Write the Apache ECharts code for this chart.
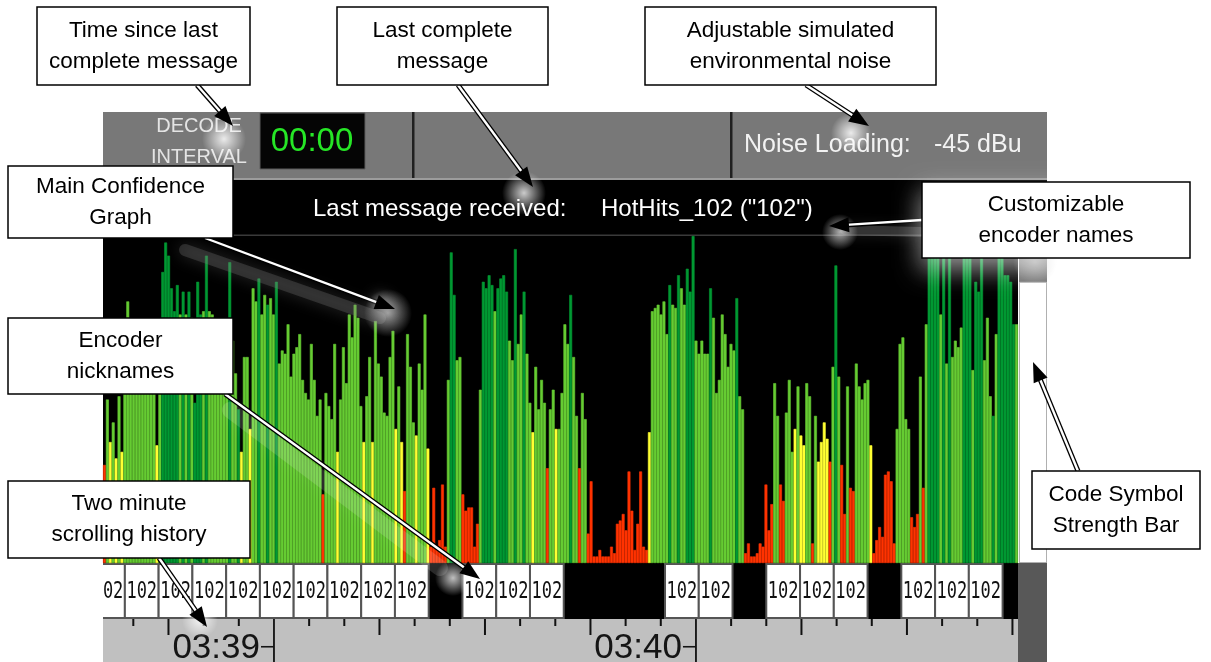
<!DOCTYPE html>
<html><head><meta charset="utf-8">
<script src="https://cdn.jsdelivr.net/npm/echarts@6/dist/echarts.min.js"></script>
<style>html,body{margin:0;padding:0;background:#fff}#c{width:1211px;height:662px}</style>
</head><body><div id="c"></div>
<script>
// ---- confidence bars (percent of full scale), read left to right ----
const confidenceA = [30,50,37,43,32,51,34,66,80,70, 63,72,67,61,69,64,57,70,36,69, 89,98,94,84,77,85,76,83,76,83, 75,49,86,76,77,94,77,76,72,65, 60,68,70,92,68,58,47,34,63,63, 41,84,80,87,76,82,79,81,76,86, 61,65,64];
const levelsA = "RLYLYLYLLL"+"LLLLLLLLYL"+"DDDDDDLDLD"+"LDDDLDLLLL"+"LLLDLLDYLL"+"YLLDLLDLLD"+"LLL";
const confidenceB = [73,57,64,66,70,56,52,50,67,56, 45,50,21,52,48,44,67,34,50,66, 55,76,69,79,75,48,37,51,63,37, 74,61,57,46,45,63,71,41,54,37, 22,70,60,43,39,61,53,76,35,5, 23,5,7,24,5,56,95,82,62,63,21,16];
const levelsB = "LLLLLLLLLL"+"LLRLLLLYLL"+"LLLLLLYLLY"+"LLLLLLLYLY"+"RLLLYLLLYR"+"RRRRRLDDLLRR";
const confidenceC = [17,17,5,12,53,86,84,88,85,77, 84,87,88,83,68,62,96,67,76,83, 64,49,40,60,47,56,49,29,47,53, 41,41,52,73,67,82,63,45,29,52, 44,9,25,2,2,4,2,2,2,5, 3,12,13,15,10,28,16,4,12,28,5,4,40];
const levelsC = "RRRRLDDDDL"+"DDDDLLDLLD"+"LLYLLLLRLL"+"YLLLLDLLRL"+"LRRRRRRRRR"+"RRRRRRRRRRRRY";
const confidenceD = [77,78,79,76,80,70,85,79,78,88, 84,79,90,83,100,68,64,68,64,64, 84,75,52,56,76,70,60,67,65,81, 51,47,3,6,2,2,3,6,5,24, 10,18,55,45,24,19,46,56,34,41, 54,39,36,55,51,6,45,31,37,43,38,31,60];
const levelsD = "LLLLLLDLLD"+"LLDDDLLLLL"+"DLLLLLLLLD"+"LLRRRRRRRR"+"RRLLRRLLLY"+"LYYLLRLYYYYRL";
const confidenceE = [91,57,30,15,54,23,22,61,54,50, 55,56,36,3,7,11,8,27,28,25, 6,41,67,69,44,41,14,11,15,57, 23,73,97,99,96,98,76,97,61,99, 63,68,66,72,97,99,96,59,86,83, 98,62,75,51,45,70,97,99,88,88,86,73,73];
const levelsE = "DLRRLRRLLL"+"LLYRRRRRRR"+"RLLLLLRRRL"+"RLDDDDLDLD"+"LLLLDDDLDD"+"DLLLDLDDDDDDL";

const codeSymbolStrength = [86];

// ---- encoder nickname slots (seconds after 03:38:00) ----
const slotNames = ['102','102','102','102','102','102','102','102','102','102','', '102','102','102','','','', '102','102','', '102','102','102','', '102','102','102',''];
const slotStart = 34.0, slotSeconds = 4.8;

// ---- time axis (seconds after 03:38:00) ----
const timeMin = 35.69, timeMax = 165.79;
const fiveSecondTicks = [40,45,50,55,60,65,70,75,80,85,90,95,100,105,110,115,120,125,130,135,140,145,150,155,160,165];
const quarterTicks = [45,75,90,105,135,150,165];
const minuteTicks = [60,120];
const minuteLabels = ['03:39','03:40'];

const COLORS = {R:'#ff3300', Y:'#ffff33', L:'#66cc33', D:'#009933'};
const confidence = [].concat(confidenceA, confidenceB, confidenceC, confidenceD, confidenceE);
const levels = (levelsA+levelsB+levelsC+levelsD+levelsE).split('');

const FONT = '"Liberation Sans", Arial, sans-serif';

function arrow(x1,y1,x2,y2,headFill,headShadow){
  const dx=x2-x1, dy=y2-y1, L=Math.hypot(dx,dy), ux=dx/L, uy=dy/L;
  const hl=20, hw=7.5, bx=x2-ux*hl, by=y2-uy*hl, px=-uy, py=ux;
  const ex=bx+ux*3, ey=by+uy*3;
  const head={type:'polygon', z:103, shape:{points:[[x2,y2],[bx+px*hw,by+py*hw],[bx-px*hw,by-py*hw]]}, style:{fill:headFill||'#000'}};
  if(headShadow){head.style.shadowBlur=14; head.style.shadowColor=headShadow;}
  return [
    {type:'line', z:101, shape:{x1:x1,y1:y1,x2:ex,y2:ey}, style:{stroke:'#000', lineWidth:5}},
    {type:'line', z:102, shape:{x1:x1,y1:y1,x2:ex,y2:ey}, style:{stroke:'#fff', lineWidth:2.4}},
    head
  ];
}
function glow(cx,cy,r,color){
  return {type:'circle', z:95, shape:{cx:cx,cy:cy,r:r}, silent:true,
    style:{fill:new echarts.graphic.RadialGradient(0.5,0.5,0.5,[{offset:0,color:color},{offset:1,color:color.replace(/[\d.]+\)$/,'0)')}])}};
}
function callout(x,y,w,h,lines,extra){
  const box={type:'rect', z:110, shape:{x:x,y:y,width:w,height:h}, style:Object.assign({fill:'#fff', stroke:'#000', lineWidth:1.5}, extra||{})};
  const txt={type:'text', z:111, x:x+w/2, y:y+h/2, style:{text:lines.join('\n'), align:'center', verticalAlign:'middle', textAlign:'center', textVerticalAlign:'middle', fontSize:22.5, lineHeight:31, fontFamily:FONT, fill:'#000'}};
  return [box, txt];
}
function label(x,y,text,size,color,align){
  return {type:'text', z:5, x:x, y:y, style:{text:text, align:align||'left', textAlign:align||'left', verticalAlign:'middle', textVerticalAlign:'middle', fontSize:size, fontFamily:FONT, fill:color}};
}

const graphics = [].concat(
  [
    {type:'rect', z:1, shape:{x:103,y:112,width:944,height:66}, style:{fill:'#787878'}},
    {type:'rect', z:1, shape:{x:103,y:178,width:944,height:2}, style:{fill:'#9c9c9c'}},
    {type:'rect', z:1, shape:{x:103,y:180,width:944,height:56}, style:{fill:'#000'}},
    {type:'rect', z:2, shape:{x:103,y:234.5,width:916,height:1.5}, style:{fill:'#3a3a3a'}},
    {type:'rect', z:2, shape:{x:412,y:112,width:2.5,height:66}, style:{fill:'#202020'}},
    {type:'rect', z:2, shape:{x:730,y:112,width:2.5,height:66}, style:{fill:'#202020'}},
    {type:'rect', z:2, shape:{x:260,y:113,width:105,height:56}, style:{fill:'#050505', stroke:'#5c5c5c', lineWidth:1}},
    {type:'rect', z:1, shape:{x:1018,y:563,width:29,height:99}, style:{fill:'#585858'}},
    label(199,126,'DECODE',20,'#e4e4e4','center'),
    label(199,157,'INTERVAL',20,'#e4e4e4','center'),
    label(312,142,'00:00',33,'#26e626','center'),
    label(744,145,'Noise Loading:',25,'#f2f2f2'),
    label(934,145,'-45 dBu',25,'#f2f2f2'),
    label(313,209,'Last message received:',24,'#ffffff'),
    label(601,209,'HotHits_102 ("102")',24,'#ffffff'),
    // glows & soft shadows
    {type:'line', z:94, silent:true, shape:{x1:185,y1:250,x2:380,y2:318}, style:{stroke:'rgba(120,120,120,0.3)', lineWidth:12, shadowBlur:16, shadowColor:'rgba(160,160,160,0.8)', lineCap:'round'}},
    {type:'line', z:94, silent:true, shape:{x1:230,y1:410,x2:440,y2:568}, style:{stroke:'rgba(255,255,255,0.14)', lineWidth:16, shadowBlur:18, shadowColor:'rgba(255,255,255,0.45)', lineCap:'round'}},
    {type:'line', z:94, silent:true, shape:{x1:920,y1:232,x2:845,y2:230}, style:{stroke:'rgba(140,140,140,0.3)', lineWidth:10, shadowBlur:14, shadowColor:'rgba(160,160,160,0.6)', lineCap:'round'}},
    glow(224,139,22,'rgba(255,255,255,0.85)'),
    glow(524,193,22,'rgba(255,255,255,0.8)'),
    glow(851,133,20,'rgba(255,255,255,0.85)'),
    glow(200,620,18,'rgba(255,255,255,0.8)'),
    glow(453,578,18,'rgba(255,255,255,0.75)'),
    glow(840,232,18,'rgba(230,230,230,0.75)'),
    glow(388,313,24,'rgba(190,190,190,0.8)'),
    glow(1035,262,22,'rgba(200,200,200,0.6)')
  ],
  arrow(197,85,233,126),
  arrow(458,85,533,187),
  arrow(806,85,869,126),
  arrow(205,238,395,309,'#000','rgba(200,200,200,0.95)'),
  arrow(225,394,480,579),
  arrow(159,558,207,627),
  arrow(922,220,829,226),
  arrow(1078,471,1033,362),
  callout(37,7,213,78,['Time since last','complete message']),
  callout(337,7,211,78,['Last complete','message']),
  callout(645,7,291,78,['Adjustable simulated','environmental noise']),
  callout(8,166,225,72,['Main Confidence','Graph']),
  callout(8,318,225,76,['Encoder','nicknames']),
  callout(8,481,242,77,['Two minute','scrolling history']),
  callout(922,182,268,76,['Customizable','encoder names'],{shadowBlur:26, shadowColor:'rgba(255,255,255,0.6)', shadowOffsetY:10}),
  callout(1032,471,168,78,['Code Symbol','Strength Bar'])
);

// tick records: [seconds, kind] kind 0 = 5 s, 1 = 15 s, 2 = minute
const tickData = fiveSecondTicks.map(t => [t, minuteTicks.indexOf(t) >= 0 ? 2 : (quarterTicks.indexOf(t) >= 0 ? 1 : 0)]);
const tickLen = [7, 16, 43];

const chart = echarts.init(document.getElementById('c'), null, {renderer:'canvas'});
chart.setOption({
  animation:false,
  backgroundColor:'#ffffff',
  grid:[
    {left:103, top:236, width:915, height:327, show:true, backgroundColor:'#000', borderWidth:0},
    {left:1019, top:236, width:28, height:327, show:true, backgroundColor:'#707070', borderWidth:0},
    {left:103, top:563, width:915, height:56, show:true, backgroundColor:'#000', borderWidth:0},
    {left:103, top:619, width:915, height:43, show:true, backgroundColor:'#c0c0c0', borderWidth:0}
  ],
  xAxis:[
    {type:'category', gridIndex:0, data:confidence.map((_,i)=>i), show:false},
    {type:'category', gridIndex:1, data:['strength'], show:false},
    {type:'value', gridIndex:2, min:timeMin, max:timeMax, show:false},
    {type:'value', gridIndex:3, min:timeMin, max:timeMax, show:false}
  ],
  yAxis:[
    {type:'value', gridIndex:0, min:0, max:100, show:false},
    {type:'value', gridIndex:1, min:0, max:100, show:false},
    {type:'value', gridIndex:2, min:0, max:1, show:false},
    {type:'value', gridIndex:3, min:0, max:1, show:false}
  ],
  series:[
    {type:'bar', xAxisIndex:0, yAxisIndex:0, barWidth:'100%', barGap:'0%', silent:true,
      data:confidence.map((v,i)=>({value:v, itemStyle:{color:COLORS[levels[i]], borderColor:COLORS[levels[i]], borderWidth:0.6}}))},
    {type:'bar', xAxisIndex:1, yAxisIndex:1, barWidth:'100%', silent:true,
      itemStyle:{color:'#ffffff', borderColor:'#b0b0b0', borderWidth:1}, data:codeSymbolStrength},
    {type:'custom', xAxisIndex:2, yAxisIndex:2, clip:true, silent:true,
      data:slotNames.map((n,i)=>[slotStart+i*slotSeconds, slotStart+(i+1)*slotSeconds, n]),
      renderItem:function(params, api){
        const name = slotNames[params.dataIndex];
        if(!name) return null;
        const p0 = api.coord([api.value(0), 1]);
        const p1 = api.coord([api.value(1), 0]);
        return {type:'group', children:[
          {type:'rect', shape:{x:p0[0], y:p0[1]+1, width:p1[0]-p0[0], height:p1[1]-p0[1]-2}, style:{fill:'#ffffff', stroke:'#555', lineWidth:2}},
          {type:'text', x:(p0[0]+p1[0])/2, y:(p0[1]+p1[1])/2+1, scaleY:1.3,
            style:{text:name, x:0, y:0, align:'center', verticalAlign:'middle', textAlign:'center', textVerticalAlign:'middle', fontSize:17, fontFamily:'"DejaVu Sans Mono", monospace', fill:'#111'}}
        ]};
      }},
    {type:'custom', xAxisIndex:3, yAxisIndex:3, clip:true, silent:true, data:tickData,
      renderItem:function(params, api){
        const kind = api.value(1);
        const top = api.coord([api.value(0), 1]);
        return {type:'line', shape:{x1:top[0], y1:top[1], x2:top[0], y2:top[1]+tickLen[kind]},
          style:{stroke:'#111', lineWidth: kind === 2 ? 1.8 : 2}};
      }},
    {type:'custom', xAxisIndex:3, yAxisIndex:3, clip:false, silent:true,
      data:minuteTicks.map((t,i)=>[t, i]),
      renderItem:function(params, api){
        const p = api.coord([api.value(0), 0.35]);
        return {type:'group', children:[
          {type:'rect', shape:{x:p[0]-13, y:p[1]-1, width:13, height:1.6}, style:{fill:'#151515'}},
          {type:'text', x:p[0]-14, y:p[1]+1, style:{text:minuteLabels[params.dataIndex], x:0, y:0, align:'right', textAlign:'right', verticalAlign:'middle', textVerticalAlign:'middle', fontSize:35, fontFamily:FONT, fill:'#151515'}}
        ]};
      }}
  ],
  graphic:graphics
});
</script></body></html>
